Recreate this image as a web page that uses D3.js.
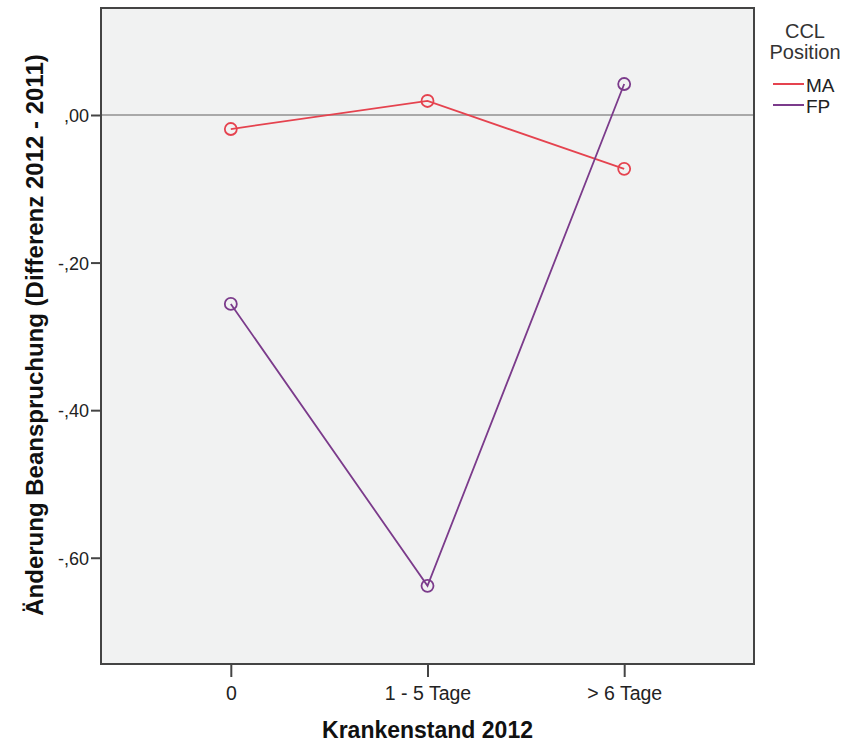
<!DOCTYPE html>
<html>
<head>
<meta charset="utf-8">
<script src="https://cdn.jsdelivr.net/npm/d3@7"></script>
<style>
  body { margin: 0; background: #fff; }
  svg text { font-family: "Liberation Sans", Arial, sans-serif; }
</style>
</head>
<body>
<svg id="chart"></svg>
<script>
// categories and series
const categories = ["0", "1 - 5 Tage", "> 6 Tage"];
const seriesNames = ["MA", "FP"];
const valuesMA = [-0.019, 0.019, -0.073];
const valuesFP = [-0.256, -0.638, 0.042];
const yTicks = [0, -0.2, -0.4, -0.6];
const seriesColors = ["#e5434f", "#7b3b8b"];

const width = 848, height = 747;
const margin = {top: 8, right: 94, bottom: 83, left: 101};
const innerW = width - margin.left - margin.right;
const innerH = height - margin.top - margin.bottom;

const svg = d3.select("#chart").attr("width", width).attr("height", height);
const chart = svg.append("g").attr("transform", `translate(${margin.left},${margin.top})`);

const xScale = d3.scalePoint().domain(categories).range([0, innerW]).padding(0.66);
const yScale = d3.scaleLinear().domain([-0.744, 0.145]).range([innerH, 0]);

// plot background
chart.append("rect")
  .attr("width", innerW).attr("height", innerH)
  .attr("fill", "#f1f2f2");

// reference line at 0
chart.append("line")
  .attr("x1", 0).attr("x2", innerW)
  .attr("y1", yScale(0)).attr("y2", yScale(0))
  .attr("stroke", "#a9a9a9").attr("stroke-width", 2);

const fmt = v => {
  const s = Math.abs(v).toFixed(2).replace(".", ",").replace(/^0/, "");
  return (v < -1e-9 ? "-" : "") + s;
};

const yAxis = d3.axisLeft(yScale).tickValues(yTicks).tickFormat(fmt).tickSize(10).tickSizeOuter(0).tickPadding(2);
const xAxis = d3.axisBottom(xScale).tickSize(13).tickSizeOuter(0);

const yG = chart.append("g").call(yAxis);
const xG = chart.append("g").attr("transform", `translate(0,${innerH})`).call(xAxis);
[yG, xG].forEach(g => {
  g.select(".domain").remove();
  g.selectAll(".tick line").attr("stroke", "#444").attr("stroke-width", 2);
  g.selectAll(".tick text").attr("fill", "#222");
});
yG.selectAll(".tick text").style("font-size", "18px").attr("dy", "0.36em");
xG.selectAll(".tick text").style("font-size", "19.5px").attr("y", 36).attr("dy", 0);

// frame
chart.append("rect")
  .attr("width", innerW).attr("height", innerH)
  .attr("fill", "none").attr("stroke", "#444").attr("stroke-width", 2);

const series = [valuesMA, valuesFP];
const line = d3.line().x((d, i) => xScale(categories[i])).y(d => yScale(d));

series.forEach((vals, s) => {
  chart.append("path")
    .datum(vals)
    .attr("d", line)
    .attr("fill", "none")
    .attr("stroke", seriesColors[s])
    .attr("stroke-width", 1.8);
  chart.selectAll(null)
    .data(vals)
    .join("circle")
    .attr("cx", (d, i) => xScale(categories[i]))
    .attr("cy", d => yScale(d))
    .attr("r", 6)
    .attr("fill", "none")
    .attr("stroke", seriesColors[s])
    .attr("stroke-width", 1.8);
});

// axis titles
svg.append("text")
  .attr("x", margin.left + xScale(categories[1]))
  .attr("y", 738)
  .attr("text-anchor", "middle")
  .style("font-size", "23px").style("font-weight", "bold")
  .attr("fill", "#111")
  .text("Krankenstand 2012");

svg.append("text")
  .attr("transform", `translate(43,${margin.top + innerH / 2 - 1}) rotate(-90)`)
  .attr("text-anchor", "middle")
  .style("font-size", "24px").style("font-weight", "bold")
  .attr("fill", "#111")
  .text("Änderung Beanspruchung (Differenz 2012 - 2011)");

// legend
const legend = svg.append("g");
legend.append("text").attr("x", 805).attr("y", 38).attr("text-anchor", "middle")
  .style("font-size", "20px").attr("fill", "#333").text("CCL");
legend.append("text").attr("x", 805).attr("y", 59).attr("text-anchor", "middle")
  .style("font-size", "20px").attr("fill", "#333").text("Position");
seriesNames.forEach((name, i) => {
  const y = 84 + i * 21;
  legend.append("line").attr("x1", 773).attr("x2", 804).attr("y1", y).attr("y2", y)
    .attr("stroke", seriesColors[i]).attr("stroke-width", 2);
  legend.append("text").attr("x", 806).attr("y", y + 8)
    .style("font-size", "19px").attr("fill", "#222").text(name);
});
</script>
</body>
</html>
